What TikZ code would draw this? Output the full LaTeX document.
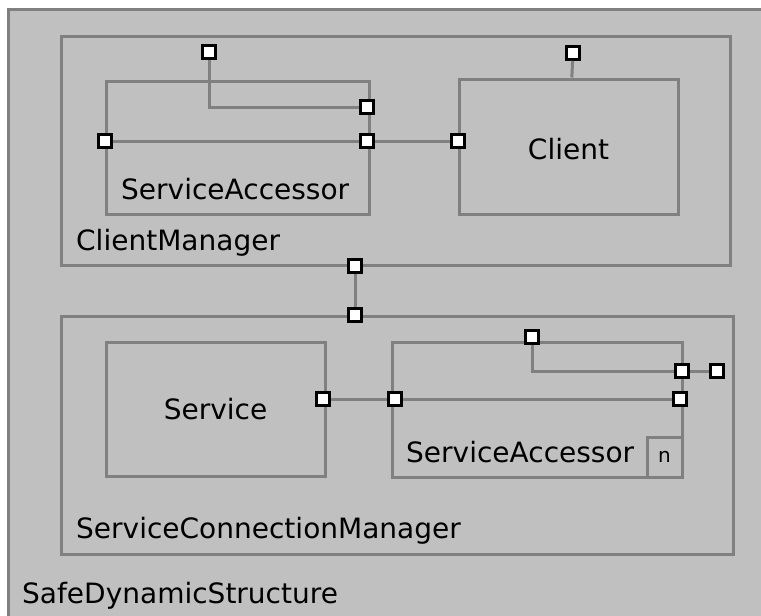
\documentclass[tikz,border=0pt]{standalone}
\usepackage{fontspec}
\setmainfont{DejaVu Sans}
\usepackage{tikz}
\usetikzlibrary{shapes.geometric, arrows}
\usetikzlibrary{positioning}
\definecolor{partfill}{gray}{0.753}
\definecolor{partline}{gray}{0.5}
\tikzstyle{part} = [rectangle, draw=partline, line width=3pt, fill=partfill, inner sep=0pt]
\tikzstyle{port} = [rectangle, draw=black, line width=2.6pt, fill=white, minimum size=13pt, inner sep=0pt]
\tikzstyle{link} = [draw=partline, line width=3pt]
\tikzstyle{partname} = [anchor=base west, inner sep=0pt, font=\fontsize{28}{32}\selectfont]

\begin{document}
\begin{tikzpicture}[x=1pt, y=-1pt]
                                \useasboundingbox (0,0) rectangle (761,616);
                                \node (frame) [part, minimum width=770pt, minimum height=625pt, anchor=north west] at (7,8) {};
                                \node (mgr) [part, minimum width=669pt, minimum height=229pt] at (395.5,150.5) {};
                                \node (acc) [part, minimum width=263pt, minimum height=133pt] at (237.5,147.5) {};
                                \node (client) [part, minimum width=219pt, minimum height=135pt, text depth=0pt, text height=25pt, font=\fontsize{28}{32}\selectfont] at (568.5,146.5) {Client};
                                \node (conn) [part, minimum width=672pt, minimum height=238pt] at (397,435) {};
                                \node (service) [part, minimum width=219pt, minimum height=134pt, text depth=0pt, text height=21pt, font=\fontsize{28}{32}\selectfont] at (215.5,409) {Service};
                                \node (accn) [part, minimum width=290pt, minimum height=135pt] at (537,409.5) {};
                                \node (mult) [part, minimum width=35pt, minimum height=40pt, font=\fontsize{20}{24}\selectfont] at (664.5,457) {n};
                                \node (accName) [partname] at (121,199) {ServiceAccessor};
                                \node (mgrName) [partname] at (76,250) {ClientManager};
                                \node (accnName) [partname] at (406,462) {ServiceAccessor};
                                \node (connName) [partname] at (76,538) {ServiceConnectionManager};
                                \node (frameName) [partname] at (22,603) {SafeDynamicStructure};
                                \node (a1) [port] at (209,52) {};
                                \node (a2) [port] at (367,107) {};
                                \node (a3) [port] at (367,141) {};
                                \node (a4) [port] at (105,141) {};
                                \node (c1) [port] at (458,141) {};
                                \node (c2) [port] at (573,53) {};
                                \node (m1) [port] at (355,266) {};
                                \node (s0) [port] at (355,315) {};
                                \node (s1) [port] at (323,399) {};
                                \node (b1) [port] at (395,399) {};
                                \node (b2) [port] at (680,399) {};
                                \node (b3) [port] at (532,337) {};
                                \node (b4) [port] at (682,371) {};
                                \node (s2) [port] at (717,371) {};
                                \draw [link] (a1) |- (a2);
                                \draw [link] (a4) -- (a3);
                                \draw [link] (a3) -- (c1);
                                \draw [link] (c2) -- (client);
                                \draw [link] (m1) -- (s0);
                                \draw [link] (s1) -- (b1);
                                \draw [link] (b1) -- (b2);
                                \draw [link] (b3) |- (b4);
                                \draw [link] (b4) -- (s2);
                            \end{tikzpicture}
\end{document}
